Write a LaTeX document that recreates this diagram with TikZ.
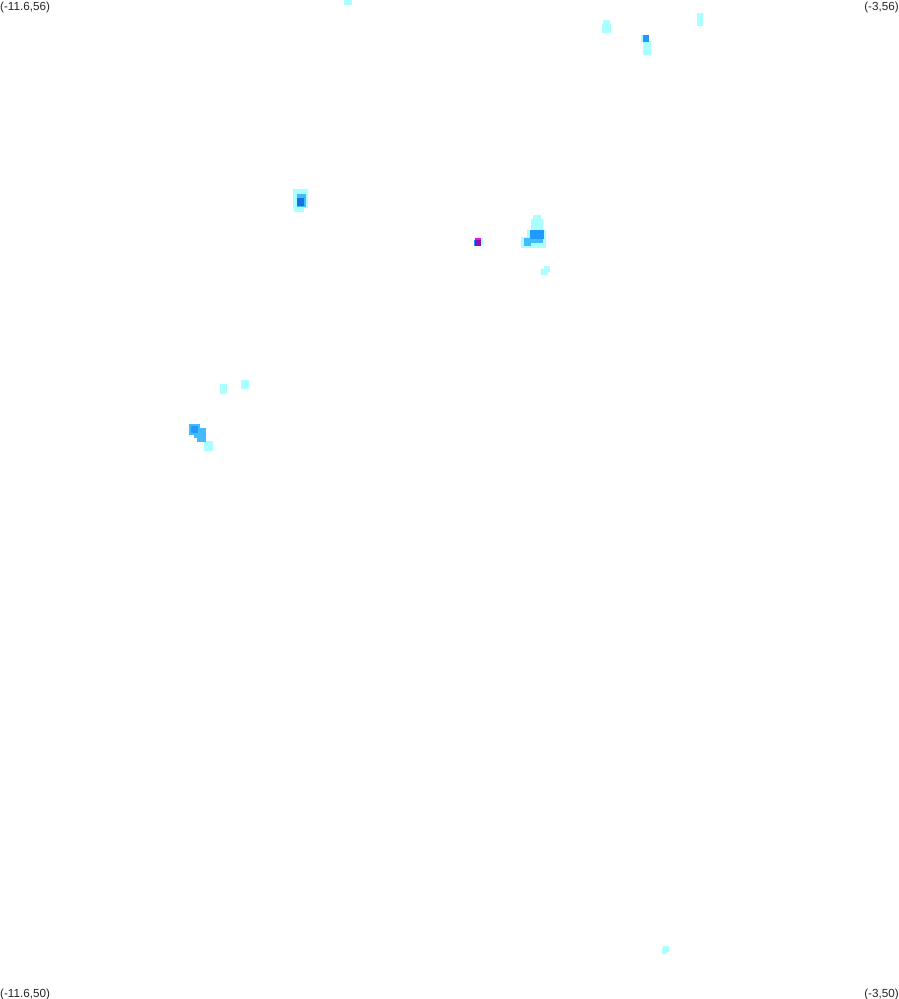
\documentclass[tikz,border=0pt]{standalone}
\usepackage{fontspec}
\setmainfont{Liberation Sans}
\definecolor{lightc}{HTML}{AAFFFF}
\definecolor{midc}{HTML}{44BBFF}
\definecolor{bluec}{HTML}{2299FF}
\definecolor{darkc}{HTML}{1177DD}
\definecolor{magc}{HTML}{EE11EE}
\definecolor{purc}{HTML}{8811BB}
\tikzset{
  cornerlabel/.style={inner sep=0pt,font=\fontsize{11.7}{13}\selectfont,text=black!85},
  px/.style={x=1pt,y=-1pt}
}
\newcommand{\cell}[5]{\fill[#1] (#2,#3) rectangle (#4,#5);}
\begin{document}
\begin{tikzpicture}[px]
\useasboundingbox (0,0) rectangle (899,999);
\fill[white] (0,0) rectangle (899,999);
% light patches
\cell{lightc}{344}{0}{352}{5}
\cell{lightc}{603}{20}{610}{24}
\cell{lightc}{602}{24}{611}{33}
\cell{lightc}{697}{13}{703}{26}
\cell{lightc}{641}{35}{644}{42}
\cell{lightc}{643}{41}{651}{55}
\cell{lightc}{293}{189}{308}{208}
\cell{lightc}{294}{208}{304}{212}
\cell{lightc}{533}{215}{541}{219}
\cell{lightc}{531}{219}{543}{230}
\cell{lightc}{527}{230}{546}{248}
\cell{lightc}{521}{237}{528}{248}
\cell{lightc}{544}{266}{550}{272}
\cell{lightc}{541}{269}{548}{275}
\cell{lightc}{220}{384}{227}{394}
\cell{lightc}{241}{380}{249}{389}
\cell{lightc}{204}{441}{213}{451}
\cell{lightc}{663}{946}{669}{952}
\cell{lightc}{662}{948}{667}{954}
\cell{lightc}{481}{238}{483}{245}
% medium
\cell{midc}{297}{194}{306}{207}
\cell{midc}{524}{238}{531}{246}
\cell{midc}{530}{238}{543}{243}
\cell{midc}{197}{428}{206}{442}
\cell{midc}{194}{432}{203}{438}
\cell{midc}{189}{424}{200}{435}
% blue
\cell{bluec}{530}{230}{544}{239}
\cell{bluec}{191}{426}{198}{433}
\cell{bluec}{643}{35}{649}{42}
% dark
\cell{darkc}{297}{198}{304}{206}
% purple point
\cell{bluec}{474}{240}{476}{246}
\cell{magc}{475}{238}{481}{241}
\cell{purc}{475}{240}{481}{246}
% corner labels
\node[cornerlabel,anchor=north west] (tl) at (0,1.5) {(-11.6,56)};
\node[cornerlabel,anchor=north east] (tr) at (899,1.5) {(-3,56)};
\node[cornerlabel,anchor=south west] (bl) at (0,1000.5) {(-11.6,50)};
\node[cornerlabel,anchor=south east] (br) at (899,1000.5) {(-3,50)};
\end{tikzpicture}
\end{document}
